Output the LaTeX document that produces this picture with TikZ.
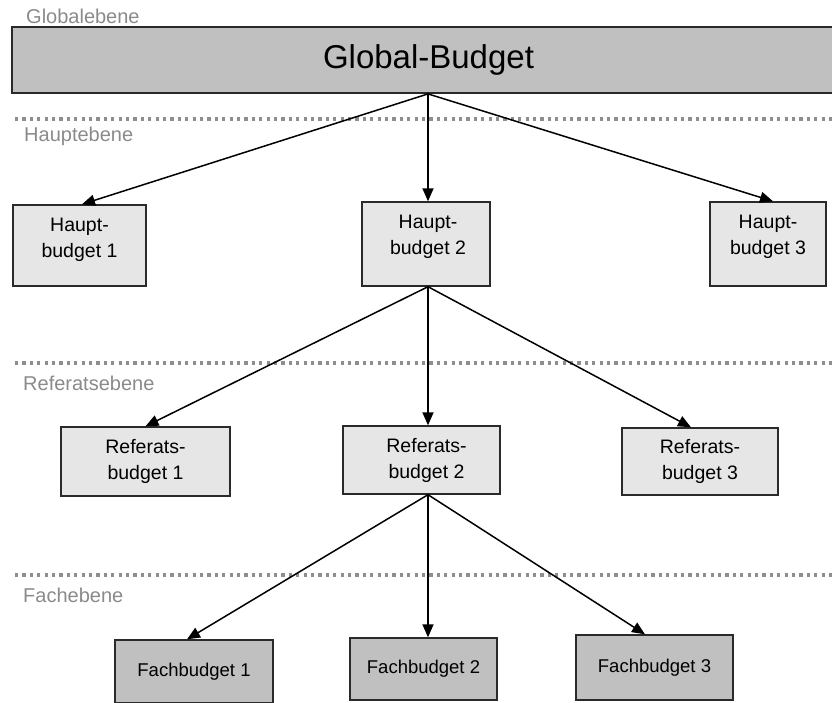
\documentclass[tikz,border=0pt]{standalone}
\usepackage{fontspec}
\setmainfont{Liberation Sans}
\usetikzlibrary{arrows.meta}
\definecolor{barfill}{HTML}{C0C0C0}
\definecolor{boxfill}{HTML}{E6E6E6}
\definecolor{edge}{HTML}{2A2A2A}
\definecolor{levelgray}{HTML}{8A8A8A}
\definecolor{dotgray}{HTML}{8E8E8E}
\begin{document}
\begin{tikzpicture}[x=1pt,y=-1pt,
  levelline/.style={dotgray, line width=3.2pt, dash pattern=on 3.2pt off 4.2pt},
  levellabel/.style={anchor=base west, inner sep=0pt, text=levelgray, font=\fontsize{20}{24}\selectfont},
  globalbox/.style={draw=edge, line width=1.8pt, fill=barfill, minimum width=833pt, minimum height=66pt, inner sep=0pt, font=\fontsize{33}{40}\selectfont},
  budgetbox/.style={draw=edge, line width=1.4pt, fill=boxfill, inner sep=0pt},
  fachbox/.style={budgetbox, fill=barfill, font=\fontsize{18.5}{22}\selectfont},
  boxtext/.style={inner sep=0pt, align=center, font=\fontsize{19.5}{26}\selectfont},
  link/.style={line width=1.5pt, -{Triangle[length=13pt,width=11pt]}}
]
\useasboundingbox (0,0) rectangle (832,703);

% level separators and their captions
\draw[levelline] (15,119) -- (840,119);
\draw[levelline] (15,363) -- (840,363);
\draw[levelline] (15,575) -- (840,575);
\node[levellabel] (lglobal) at (26,24) {Globalebene};
\node[levellabel] (lhaupt) at (24,142) {Hauptebene};
\node[levellabel] (lreferat) at (23,390) {Referatsebene};
\node[levellabel] (lfach) at (23,602) {Fachebene};

% global budget
\node[globalbox] (glob) at (428.5,60) {Global-Budget};

% main budgets
\node[budgetbox, minimum width=133pt, minimum height=81pt] (h1) at (79.5,245.5) {};
\node[boxtext] (h1t) at ([yshift=6pt]h1.center) {Haupt-\\budget 1};
\node[budgetbox, minimum width=128pt, minimum height=84pt] (h2) at (426,244) {};
\node[boxtext] (h2t) at ([xshift=2pt,yshift=7pt]h2.center) {Haupt-\\budget 2};
\node[budgetbox, minimum width=116pt, minimum height=84pt] (h3) at (768,244) {};
\node[boxtext] (h3t) at ([yshift=7pt]h3.center) {Haupt-\\budget 3};

% department budgets
\node[budgetbox, minimum width=169pt, minimum height=69pt] (r1) at (145.5,461.5) {};
\node[boxtext] (r1t) at (r1.center) {Referats-\\budget 1};
\node[budgetbox, minimum width=157pt, minimum height=68pt] (r2) at (421.5,460) {};
\node[boxtext] (r2t) at ([xshift=5pt]r2.center) {Referats-\\budget 2};
\node[budgetbox, minimum width=156pt, minimum height=67pt] (r3) at (700,461.5) {};
\node[boxtext] (r3t) at (r3.center) {Referats-\\budget 3};

% subject budgets
\node[fachbox, minimum width=158pt, minimum height=63pt] (f1) at (194,671.5) {Fachbudget 1};
\node[fachbox, minimum width=147pt, minimum height=62pt] (f2) at (423.5,669) {Fachbudget 2};
\node[fachbox, minimum width=157pt, minimum height=65pt] (f3) at (654.5,667.5) {Fachbudget 3};

% branching points
\coordinate (gsrc) at ([xshift=-0.5pt]glob.south);
\coordinate (hsrc) at (gsrc |- h2.south);
\coordinate (rsrc) at (gsrc |- r2.south);

% connectors
\draw[link] (gsrc) -- ([xshift=2.5pt]h1.north);
\draw[link] (gsrc) -- (gsrc |- h2.north);
\draw[link] (gsrc) -- ([xshift=5pt]h3.north);
\draw[link] (hsrc) -- (r1.north);
\draw[link] (hsrc) -- (hsrc |- r2.north);
\draw[link] (hsrc) -- ([xshift=-9pt]r3.north);
\draw[link] (rsrc) -- ([xshift=-7pt]f1.north);
\draw[link] (rsrc) -- (rsrc |- f2.north);
\draw[link] (rsrc) -- ([xshift=-9.5pt]f3.north);
\end{tikzpicture}
\end{document}
